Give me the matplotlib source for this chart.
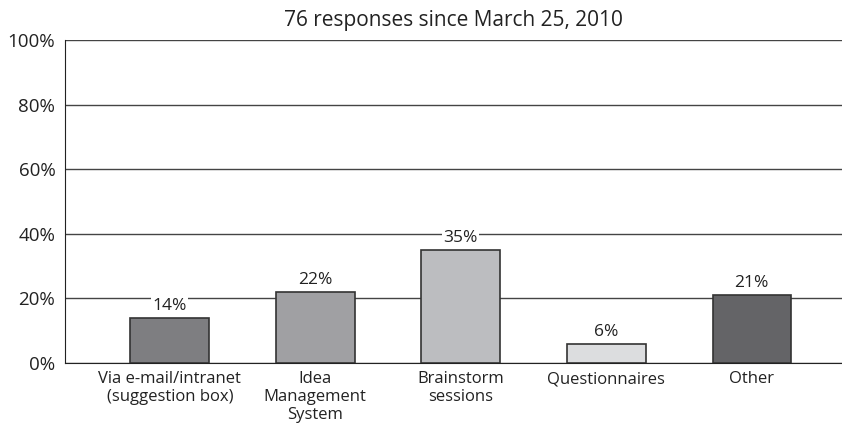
import matplotlib
matplotlib.use("Agg")
import matplotlib.pyplot as plt

categories = ["Via e-mail/intranet\n(suggestion box)", "Idea\nManagement\nSystem",
              "Brainstorm\nsessions", "Questionnaires", "Other"]
values = [14, 22, 35, 6, 21]
bar_colors = ["#7e7e81", "#a0a0a3", "#bcbdc0", "#dcdddf", "#646467"]
y_ticks = [0, 20, 40, 60, 80, 100]
title = "76 responses since March 25, 2010"

plt.rcParams["font.family"] = ["Open Sans", "DejaVu Sans"]

fig = plt.figure(figsize=(8.42, 4.26), dpi=100)
ax = fig.add_axes([0.0772, 0.148, 0.9228, 0.758])

x = list(range(len(categories)))
ax.bar(x, values, width=0.54, color=bar_colors, edgecolor="#333333", linewidth=1.2, zorder=3)

for xi, v in zip(x, values):
    ax.text(xi, v + 1.2, f"{v}%", ha="center", va="bottom", fontsize=12.5, color="#222222",
            bbox=dict(facecolor="white", edgecolor="none", pad=1), zorder=4)

ax.set_xlim(-0.72, 4.62)
ax.set_ylim(0, 100)
ax.set_yticks(y_ticks)
ax.set_yticklabels([f"{t}%" for t in y_ticks], fontsize=13.5, color="#222222")
ax.set_xticks(x)
ax.set_xticklabels(categories, fontsize=12, color="#222222", linespacing=1.15)
ax.tick_params(length=0)
ax.tick_params(axis="y", pad=7)
ax.tick_params(axis="x", pad=6)

ax.grid(axis="y", color="#444444", linewidth=1, zorder=0)
ax.spines["top"].set_visible(False)
ax.spines["right"].set_visible(False)
ax.spines["left"].set_color("#222222")
ax.spines["bottom"].set_color("#222222")
ax.set_title(title, fontsize=15, color="#222222", pad=10)

fig.savefig("out.png", dpi=100)
